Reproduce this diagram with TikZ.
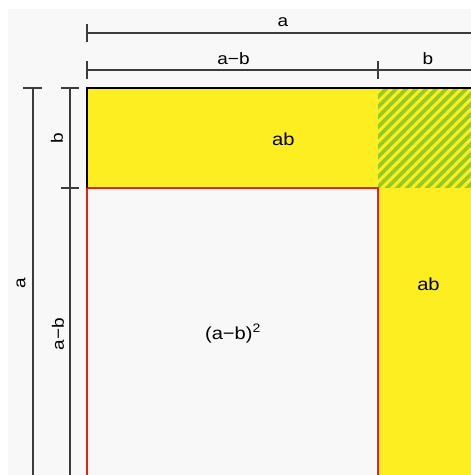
\documentclass[tikz,border=0pt]{standalone}
\usepackage{fontspec}
\setmainfont[FakeStretch=1.15]{Liberation Sans}
\definecolor{bg}{HTML}{F8F8F8}
\definecolor{yel}{HTML}{FCEE21}
\definecolor{grn}{HTML}{9ACA20}
\definecolor{redl}{HTML}{E2231A}
\definecolor{dimc}{HTML}{3C3C3C}
\tikzset{
  dimline/.style={draw=dimc, line width=1.1},
  lbl/.style={font=\fontsize{16.5}{19}\selectfont, inner sep=0, text=black},
  arealbl/.style={font=\fontsize{17.5}{20}\selectfont, inner sep=0, text=black},
}
\begin{document}
\begin{tikzpicture}[x=1pt,y=-1pt]
\useasboundingbox (0,0) rectangle (471,475);
\clip (0,0) rectangle (471,475);
\fill[white] (0,0) rectangle (471,475);
\fill[bg] (8,9) rectangle (471,475);

% corner points of the square
\coordinate (TL) at (87,88);
\coordinate (TM) at (378,88);
\coordinate (TR) at (478,88);
\coordinate (ML) at (87,188);
\coordinate (C)  at (378,188);
\coordinate (MR) at (478,188);
\coordinate (BL) at (87,479);
\coordinate (BC) at (378,479);
\coordinate (BR) at (478,479);

% regions
\fill[yel] (TL) rectangle (BR);
\fill[bg] (ML) rectangle (BC);
\begin{scope}
  \clip (TM) rectangle (MR);
  \fill[grn] (TM) rectangle (MR);
  \foreach \c in {370,380,...,600}
    \draw[yel, line width=3] (\c,80) -- ++(-130,130);
\end{scope}
\draw[redl, line width=2.2] (BL) -- (ML) -- (C) -- (BC);
\draw[black, line width=2.4] (ML) -- (TL) -- (TR) -- (MR);

% horizontal dimension a
\coordinate (ha1) at (87,33);
\coordinate (ha2) at (478,33);
\draw[dimline] (ha1) -- (ha2);
\draw[dimline] ([yshift=9]ha1) -- ([yshift=-9]ha1);
\draw[dimline] ([yshift=9]ha2) -- ([yshift=-9]ha2);
% horizontal dimension a-b, b
\coordinate (hb1) at (87,70);
\coordinate (hb2) at (378,70);
\coordinate (hb3) at (478,70);
\draw[dimline] (hb1) -- (hb3);
\foreach \p in {hb1,hb2,hb3}
  \draw[dimline] ([yshift=9]\p) -- ([yshift=-9]\p);
% vertical dimension a
\coordinate (va1) at (33,88);
\coordinate (va2) at (33,479);
\draw[dimline] (va1) -- (va2);
\draw[dimline] ([xshift=-10]va1) -- ([xshift=9]va1);
% vertical dimension b, a-b
\coordinate (vb1) at (70,88);
\coordinate (vb2) at (70,188);
\coordinate (vb3) at (70,479);
\draw[dimline] (vb1) -- (vb3);
\foreach \p in {vb1,vb2}
  \draw[dimline] ([xshift=-9]\p) -- ([xshift=9]\p);

% labels
\node[lbl] (la)   at (283,22)   {a};
\node[lbl] (lamb) at (233.5,58.5) {a−b};
\node[lbl] (lb)   at (428,58.5) {b};
\node[lbl, rotate=90] (lvb)   at (57,138) {b};
\node[lbl, rotate=90] (lva)   at (21,283) {a};
\node[lbl, rotate=90] (lvamb) at (58,334) {a−b};
\node[arealbl] (ab1) at (283.3,139) {ab};
\node[arealbl] (ab2) at (428.5,284.5) {ab};
\node[arealbl, anchor=base] (sq) at (233,339) {(a−b)\textsuperscript{2}};
\end{tikzpicture}
\end{document}
